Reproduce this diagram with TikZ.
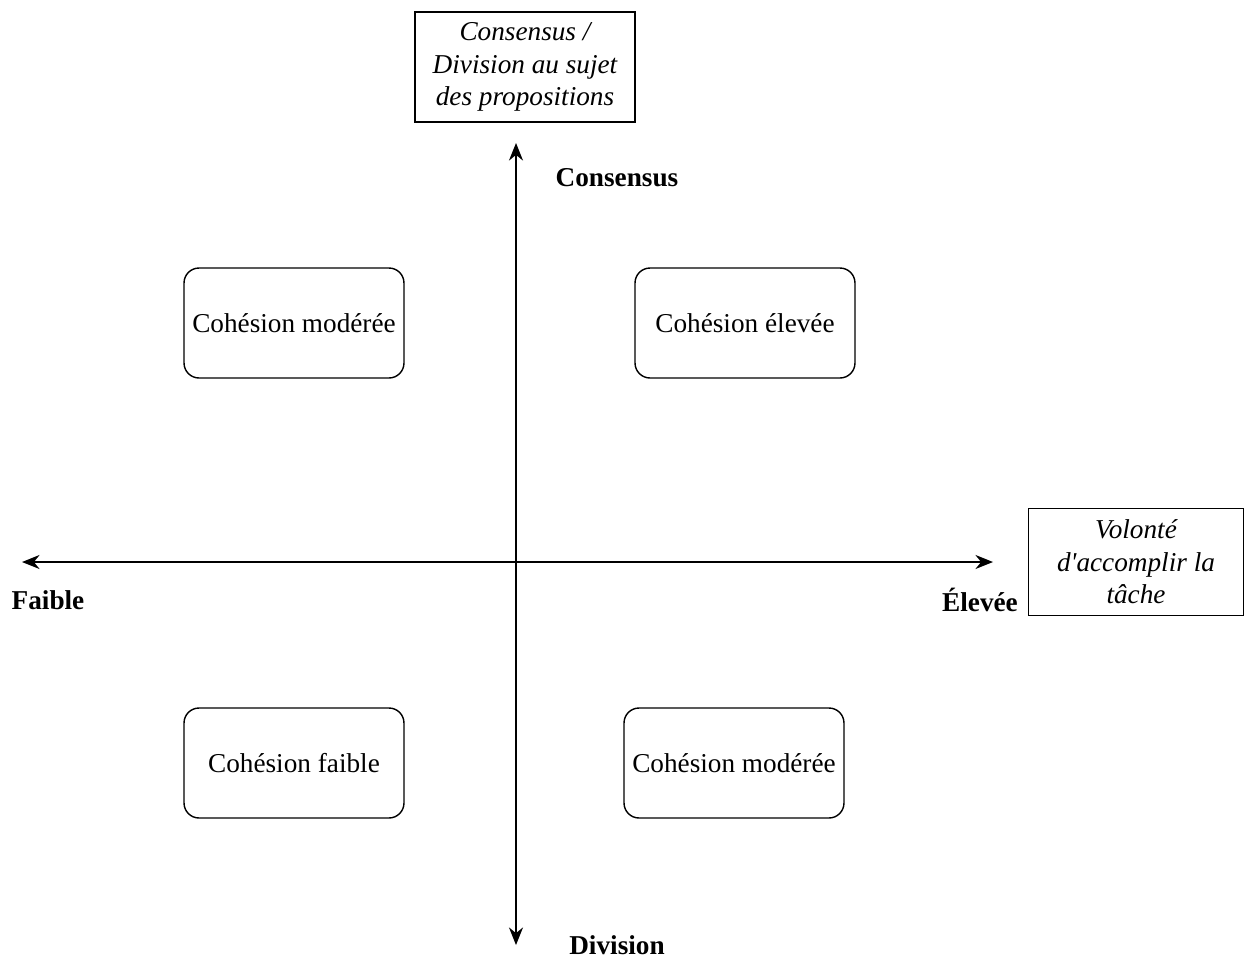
\documentclass[tikz,border=0pt]{standalone}
\usepackage{fontspec}
\setmainfont{Liberation Serif}[Ligatures=TeXOff]
\usepackage{tikz}
\usetikzlibrary{arrows.meta,positioning}

\begin{document}
\begin{tikzpicture}[x=0.02cm, y=-0.02cm,
    every node/.style={font=\fontsize{15.5}{18.5}\selectfont},
    cohesionbox/.style={draw, line width=0.8pt, rounded corners=0.3cm, minimum width=4.4cm, minimum height=2.2cm, inner sep=0pt},
    axisbox/.style={draw, line width=0.8pt, align=center, inner sep=0pt, font=\fontsize{15.5}{18.5}\selectfont\itshape},
    axislabel/.style={font=\fontsize{15.5}{18.5}\selectfont\bfseries},
    axisline/.style={line width=0.85pt, {Stealth[length=10pt,width=8pt]}-{Stealth[length=10pt,width=8pt]}}
]
    \useasboundingbox (0,0) rectangle (1245,958);

    % Axis titles
    \node[axisbox, minimum width=4.4cm, minimum height=2.2cm] (vtitle) at (525,67) {Consensus /\\Division au sujet\\des propositions};
    \node[axisbox, minimum width=4.3cm, minimum height=2.14cm] (htitle) at (1136,562) {Volonté\\d'accomplir la\\tâche};

    % Axes
    \coordinate (top) at (516,143);
    \coordinate (bottom) at (516,945);
    \coordinate (left) at (22,562);
    \coordinate (right) at (993,562);
    \draw[axisline] (bottom) -- (top);
    \draw[axisline] (left) -- (right);

    % Axis ends
    \node[axislabel] (consensus) at (617,178) {Consensus};
    \node[axislabel] (division) at (617,945) {Division};
    \node[axislabel] (faible) at (48,600) {Faible};
    \node[axislabel] (elevee) at (980,600) {Élevée};

    % Quadrants
    \node[cohesionbox] (q2) at (294,323) {Cohésion modérée};
    \node[cohesionbox] (q1) at (745,323) {Cohésion élevée};
    \node[cohesionbox] (q3) at (294,763) {Cohésion faible};
    \node[cohesionbox] (q4) at (734,763) {Cohésion modérée};
\end{tikzpicture}
\end{document}
